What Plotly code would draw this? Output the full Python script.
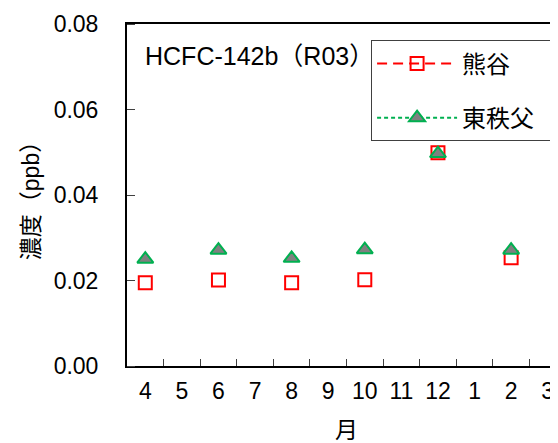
import plotly.graph_objects as go

months = ["4", "5", "6", "7", "8", "9", "10", "11", "12", "1", "2", "3"]
kumagaya = [0.0195, None, 0.0201, None, 0.0195, None, 0.0202, None, 0.0499, None, 0.0253, None]
higashichichibu = [0.0250, None, 0.0271, None, 0.0252, None, 0.0272, None, 0.0497, None, 0.0271, None]
yticks = [0.00, 0.02, 0.04, 0.06, 0.08]

FONT = "Liberation Sans, Noto Sans CJK JP"
xpos = list(range(len(months)))
PAD = "\u00a0\u00a0"

fig = go.Figure()
fig.add_trace(go.Scatter(
    x=xpos, y=kumagaya, name="熊谷" + PAD, mode="lines+markers",
    line=dict(color="#FF0000", width=2, dash="10px,6px"),
    marker=dict(symbol="square-open", size=13, color="#FF0000", line=dict(width=2, color="#FF0000")),
    connectgaps=False, legendgroup="a",
))
fig.add_trace(go.Scatter(
    x=xpos, y=higashichichibu, name="東秩父" + PAD, mode="lines+markers",
    line=dict(color="#00B050", width=2, dash="4px,3px"),
    marker=dict(symbol="triangle-up", size=14, color="#808080", line=dict(width=2, color="#00B050")),
    connectgaps=False, legendgroup="b",
))

fig.add_annotation(
    text="HCFC-142b（R03）", x=0.037, y=0.906, xref="paper", yref="paper",
    xanchor="left", yanchor="middle", showarrow=False,
    font=dict(family=FONT, size=25, color="black"),
)

fig.update_layout(
    width=558, height=435,
    margin=dict(l=119, r=0, t=16, b=77, autoexpand=False),
    paper_bgcolor="white", plot_bgcolor="white",
    font=dict(family=FONT, size=23, color="black"),
    showlegend=True,
    legend=dict(
        x=0.556, y=0.952, xanchor="left", yanchor="top",
        bordercolor="#404040", borderwidth=1, bgcolor="white",
        font=dict(family=FONT, size=24, color="black"),
        tracegroupgap=20, itemwidth=80,
    ),
    xaxis=dict(
        range=[-0.5, 11.5], tickmode="array", tickvals=xpos, ticktext=months,
        ticks="outside", ticklen=3, tickcolor="rgba(0,0,0,0)",
        showgrid=False, zeroline=False, automargin=True,
        showline=True, linecolor="black", linewidth=2, mirror=True,
        tickfont=dict(family=FONT, size=23),
        minor=dict(tickvals=[i + 0.5 for i in range(11)], ticks="inside", ticklen=7,
                   tickcolor="#404040", tickwidth=1, showgrid=False),
        title=dict(text="月", font=dict(family=FONT, size=23), standoff=22),
    ),
    yaxis=dict(
        range=[0, 0.08], tickmode="array", tickvals=yticks,
        ticktext=[f"{v:.2f}" for v in yticks],
        ticks="outside", ticklen=22, tickcolor="rgba(0,0,0,0)",
        showgrid=False, zeroline=False, automargin=True,
        showline=True, linecolor="black", linewidth=2,
        tickfont=dict(family=FONT, size=23),
        minor=dict(tickvals=yticks, ticks="inside", ticklen=8,
                   tickcolor="#404040", tickwidth=1, showgrid=False),
        title=dict(text="濃度（ppb）", font=dict(family=FONT, size=23), standoff=8),
    ),
)

fig.write_html("out.html")
